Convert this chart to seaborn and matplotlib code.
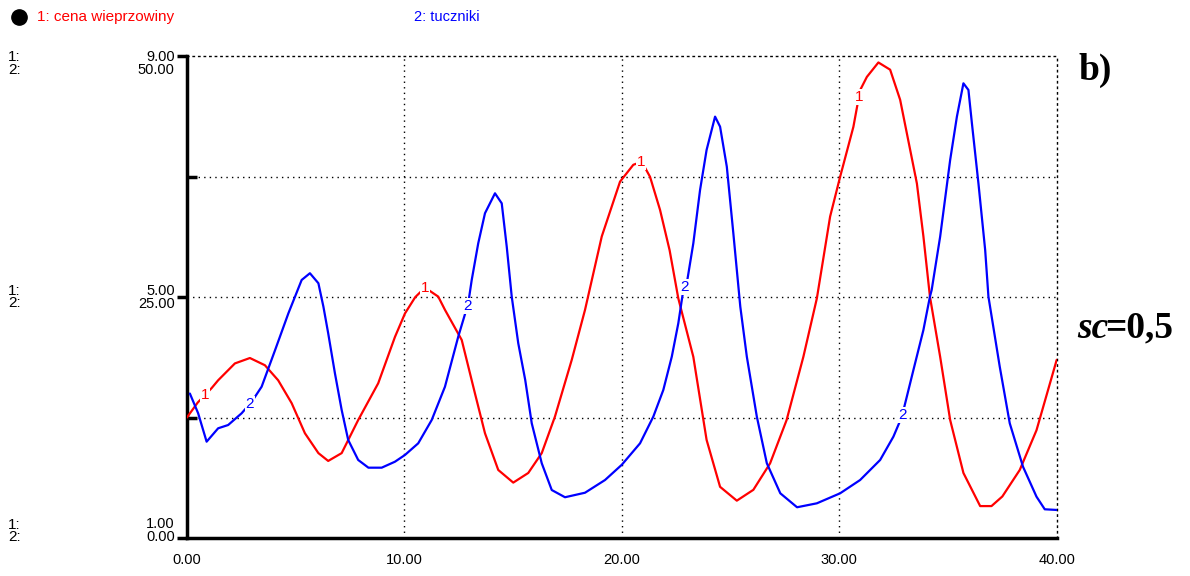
import numpy as np
import pandas as pd
import seaborn as sns
import matplotlib.pyplot as plt
from matplotlib.lines import Line2D
import matplotlib.transforms as mtransforms

# series 1: cena wieprzowiny (scale 1..9)
t_red = [0.0, 0.5, 1.14, 1.44, 2.21, 2.9, 3.59, 4.2, 4.82, 5.43, 6.05, 6.5, 7.12, 7.88,
         8.8, 9.57, 10.03, 10.5, 10.95, 11.56, 11.87, 12.64, 13.25, 13.71, 14.32, 15.01,
         15.7, 16.32, 16.93, 17.7, 18.31, 19.08, 19.92, 20.53, 20.92, 21.3, 21.76, 22.2,
         22.6, 23.29, 23.9, 24.52, 25.29, 26.05, 26.82, 27.58, 28.35, 28.97, 29.58, 30.04,
         30.65, 30.96, 31.27, 31.8, 32.34, 32.8, 33.26, 33.57, 33.87, 34.17, 34.64, 35.1,
         35.71, 36.48, 37.0, 37.5, 38.3, 39.07, 40.0]
cena = [3.0, 3.25, 3.49, 3.62, 3.90, 3.99, 3.87, 3.62, 3.24, 2.74, 2.41, 2.28, 2.41, 2.96,
        3.57, 4.34, 4.73, 5.0, 5.16, 5.01, 4.79, 4.29, 3.40, 2.74, 2.13, 1.92,
        2.08, 2.41, 3.02, 3.96, 4.79, 6.01, 6.92, 7.20, 7.25, 7.0, 6.45, 5.78,
        4.98, 4.01, 2.63, 1.85, 1.62, 1.80, 2.24, 2.96, 4.01, 4.98, 6.34, 7.0,
        7.83, 8.44, 8.66, 8.90, 8.78, 8.28, 7.45, 6.89, 6.01, 5.01, 4.01, 2.96,
        2.08, 1.53, 1.53, 1.69, 2.13, 2.79, 3.96]

# series 2: tuczniki (scale 0..50)
t_blue = [0.14, 0.52, 0.91, 1.44, 1.9, 2.52, 3.0, 3.44, 4.06, 4.67, 5.28, 5.66, 6.05, 6.28,
          6.5, 6.81, 7.12, 7.42, 7.88, 8.35, 8.96, 9.57, 10.03, 10.64, 11.26, 11.87, 12.48,
          12.94, 13.1, 13.4, 13.71, 14.17, 14.48, 14.71, 14.94, 15.24, 15.56, 15.86, 16.32,
          16.78, 17.39, 18.31, 19.23, 20.0, 20.84, 21.45, 21.91, 22.3, 22.6, 22.83, 22.99,
          23.29, 23.6, 23.9, 24.29, 24.52, 24.83, 25.13, 25.45, 25.75, 26.21, 26.67,
          27.29, 28.06, 28.97, 30.04, 30.96, 31.88, 32.49, 32.88, 33.41, 33.87, 34.17, 34.25,
          34.64, 35.1, 35.41, 35.71, 35.94, 36.1, 36.4, 36.71, 36.86, 37.38, 37.84,
          38.45, 39.07, 39.45, 40.0]
tuczniki = [15.0, 12.95, 10.0, 11.39, 11.73, 12.95, 14.2, 15.71, 19.52, 23.33, 26.79, 27.49,
            26.45, 24.02, 21.26, 17.1, 13.29, 10.18, 8.1, 7.3, 7.3, 7.92, 8.62, 9.83, 12.25,
            15.71, 20.9, 24.37, 26.79, 30.6, 33.72, 35.79, 34.75, 30.25, 25.06, 20.22, 16.41,
            11.91, 7.76, 4.98, 4.23, 4.7, 6.02, 7.6, 9.83, 12.6, 15.37, 18.83, 22.3, 25.75,
            26.45, 30.6, 36.14, 40.29, 43.75, 42.71, 38.55, 31.64, 24.02, 18.83, 12.6,
            7.76, 4.64, 3.19, 3.6, 4.64, 6.02, 8.1, 10.52, 12.6, 17.44, 21.6, 25.06, 25.75,
            31.29, 39.25, 43.75, 47.21, 46.52, 43.06, 36.83, 29.9, 25.06, 17.79, 11.91,
            7.4, 4.29, 2.98, 2.91]

# where STELLA puts the little curve numbers
lab1_t = [0.85, 10.95, 20.9, 30.9]
lab2_t = [2.9, 12.9, 22.9, 32.9]

x_ticks = [0, 10, 20, 30, 40]
x_labels = ["0.00", "10.00", "20.00", "30.00", "40.00"]
y_major = [9, 5, 1]
y_labels = ["9.00\n50.00", "5.00\n25.00", "1.00\n0.00"]

RED = "#ff0000"
BLUE = "#0000ff"

sns.set_style("white")
plt.rcParams['font.family'] = ['Liberation Sans', 'DejaVu Sans']
plt.rcParams['text.color'] = 'black'
plt.rcParams['xtick.color'] = 'black'
plt.rcParams['ytick.color'] = 'black'

fig = plt.figure(figsize=(11.9, 5.76), dpi=100)
ax = fig.add_axes([0.157, 0.066, 0.731, 0.836])
ax2 = ax.twinx()

df_red = pd.DataFrame({"t": t_red, "v": cena})
df_blue = pd.DataFrame({"t": t_blue, "v": tuczniki})
sns.lineplot(data=df_red, x="t", y="v", ax=ax, color=RED, lw=1.6, estimator=None, sort=False, zorder=3)
sns.lineplot(data=df_blue, x="t", y="v", ax=ax2, color=BLUE, lw=1.6, estimator=None, sort=False, zorder=3)

ax.set_xlim(0, 40)
ax.set_ylim(1, 9)
ax2.set_ylim(0, 50)
ax.set_xlabel("")
ax.set_ylabel("")
ax2.set_ylabel("")

# curve numbers
for tt in lab1_t:
    yy = np.interp(tt, t_red, cena)
    ax.text(tt, yy, "1", color=RED, fontsize=11, ha='center', va='center', zorder=5,
            bbox=dict(facecolor='white', edgecolor='none', pad=0.5))
for tt in lab2_t:
    yy = np.interp(tt, t_blue, tuczniki)
    ax2.text(tt, yy, "2", color=BLUE, fontsize=11, ha='center', va='center', zorder=5,
             bbox=dict(facecolor='white', edgecolor='none', pad=0.5))

# grid: dotted
for gx in [10, 20, 30]:
    ax.axvline(gx, color='black', lw=1, ls=(0, (1, 3)), zorder=1)
for gy in [3, 5, 7]:
    ax.axhline(gy, color='black', lw=1, ls=(0, (1, 3)), zorder=1)

# spines
for s in ["left", "bottom"]:
    ax.spines[s].set_linewidth(2.5)
    ax.spines[s].set_color("black")
for s in ["top", "right"]:
    ax.spines[s].set_linestyle((0, (1, 3)))
    ax.spines[s].set_linewidth(1)
    ax.spines[s].set_color("black")
for s in ax2.spines.values():
    s.set_visible(False)
ax2.set_yticks([])

ax.set_xticks(x_ticks)
ax.set_xticklabels(x_labels, fontsize=10.5)
ax.tick_params(axis='x', direction='out', length=6, width=2.5, pad=5)
ax.set_yticks(y_major)
ax.set_yticklabels([])
ax.tick_params(axis='y', direction='out', length=7, width=2.5)
ax.set_yticks([3, 7], minor=True)
ax.tick_params(axis='y', which='minor', direction='in', length=7, width=2.5)

# two-scale y labels
trans = mtransforms.blended_transform_factory(ax.transAxes, ax.transData)
trans_fig = mtransforms.blended_transform_factory(fig.transFigure, ax.transData)
offs = [-0.12, 0.0, 0.12]
for yv, lab, off in zip(y_major, y_labels, offs):
    ax.text(-0.014, yv + off, lab, transform=trans, ha='right', va='center',
            fontsize=10.5, linespacing=0.9)
    fig.text(0.007, yv + off, "1:\n2:", transform=trans_fig, ha='left', va='center',
             fontsize=11, linespacing=0.85)

# header legend
fig.add_artist(Line2D([0.016], [0.97], marker='o', markersize=11, color='black',
                      transform=fig.transFigure))
fig.text(0.031, 0.97, "1: cena wieprzowiny", color=RED, fontsize=11, va='center')
fig.text(0.348, 0.97, "2: tuczniki", color=BLUE, fontsize=10.5, va='center')

# panel annotations
fig.text(0.906, 0.878, "b)", fontsize=27, fontweight='bold', family='Liberation Serif', va='center')
fig.text(0.905, 0.43, "sc", fontsize=27, fontweight='bold', fontstyle='italic',
         family='Liberation Serif', va='center')
fig.text(0.929, 0.43, "=0,5", fontsize=27, fontweight='bold', family='Liberation Serif', va='center')

plt.savefig("out.png", dpi=100)
